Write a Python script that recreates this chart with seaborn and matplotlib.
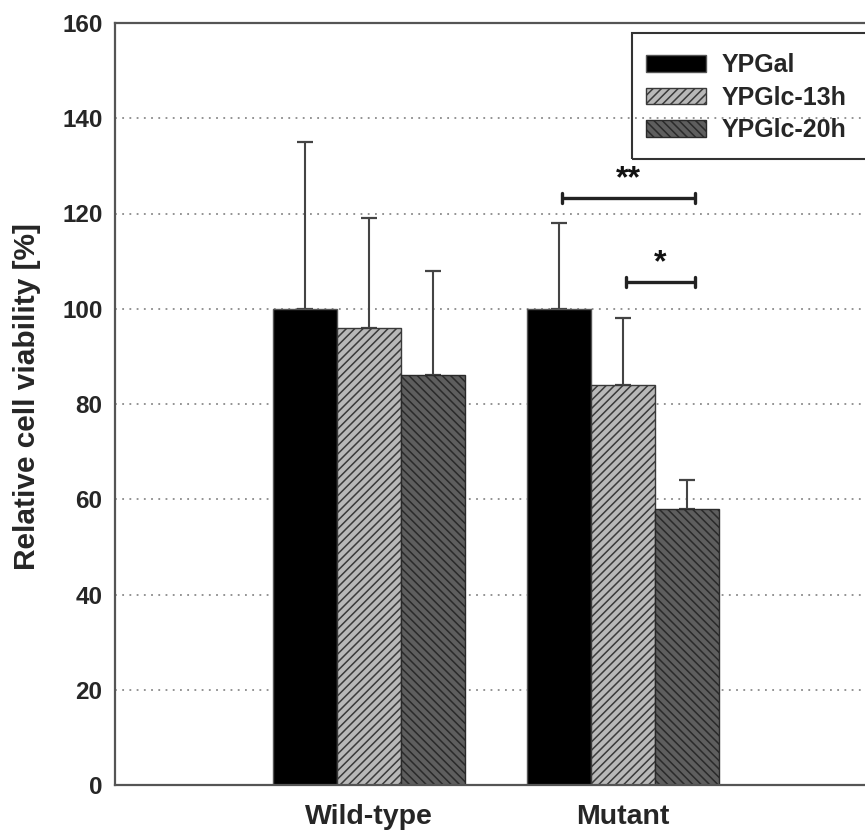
import matplotlib
matplotlib.use("Agg")
import matplotlib.pyplot as plt
from matplotlib.patches import Rectangle
import seaborn as sns
import pandas as pd
import numpy as np

# ---- data ----
groups = ["Wild-type", "Mutant"]
conditions = ["YPGal", "YPGlc-13h", "YPGlc-20h"]
wt_values = [100, 96, 86]
mut_values = [100, 84, 58]
wt_errors = [35, 23, 22]
mut_errors = [18, 14, 6]
y_ticks = [0, 20, 40, 60, 80, 100, 120, 140, 160]
# significance: (group, condition_a, condition_b, y level, label)
sig_brackets = [("Mutant", "YPGal", "YPGlc-20h", 123.3, "**"),
                ("Mutant", "YPGlc-13h", "YPGlc-20h", 105.6, "*")]

sns.set_style("white")
plt.rcParams["font.family"] = ["Liberation Sans", "DejaVu Sans"]
plt.rcParams["font.weight"] = "bold"
plt.rcParams["hatch.linewidth"] = 1.1

df = pd.DataFrame({
    "group": [g for g in groups for _ in conditions],
    "condition": conditions * len(groups),
    "value": wt_values + mut_values,
    "err": wt_errors + mut_errors,
})

W, H = 865, 833
fig = plt.figure(figsize=(W / 100, H / 100), dpi=100)
ax = fig.add_axes([115 / W, 48 / H, (877 - 115) / W, (785 - 23) / H])

colors = ["#000000", "#b8b8b8", "#5e5e5e"]
sns.barplot(data=df, x="group", y="value", hue="condition", order=groups,
            hue_order=conditions, palette=colors, width=0.756, gap=0,
            errorbar=None, saturation=1, ax=ax, zorder=2)

bar_containers = list(ax.containers)
hatches = [None, "////", "\\\\\\\\"]
edgecols = ["#555555", "#3a3a3a", "#2a2a2a"]
centers = {}
for cont, cond, h, ec in zip(bar_containers, conditions, hatches, edgecols):
    for bar, g in zip(cont.patches, groups):
        bar.set_edgecolor(ec)
        bar.set_linewidth(1.0)
        if h:
            bar.set_hatch(h)
        centers[(g, cond)] = bar.get_x() + bar.get_width() / 2

# one-sided error bars
for cond in conditions:
    xs = [centers[(g, cond)] for g in groups]
    sub = df[df.condition == cond].set_index("group").loc[groups]
    ys = sub["value"].values
    es = sub["err"].values
    ax.errorbar(xs, ys, yerr=[np.zeros_like(es), es], fmt="none",
                ecolor="#444444", elinewidth=1.5, capsize=5.6, capthick=1.6,
                zorder=1.9)

# significance brackets
for g, a, b, y, lab in sig_brackets:
    x1 = centers[(g, a)] + 0.01
    x2 = centers[(g, b)] + 0.03
    ax.plot([x1, x2], [y, y], color="#222222", lw=2.4, zorder=4,
            solid_capstyle="butt")
    for xx in (x1, x2):
        ax.plot([xx, xx], [y - 1.0, y + 1.0], color="#222222", lw=2.4, zorder=4)
    ax.text((x1 + x2) / 2, y + 0.7, lab, ha="center", va="bottom",
            fontsize=23, fontweight="bold", color="#111111")

ax.set_xlim(-1, 2)
ax.set_ylim(0, 160)
ax.set_yticks(y_ticks)
ax.set_yticklabels([str(t) for t in y_ticks])
ax.yaxis.grid(True, linestyle=(0, (1, 3)), color="#8a8a8a", lw=1.3)
ax.xaxis.grid(False)
ax.set_axisbelow(True)

for side in ["left", "bottom", "top", "right"]:
    ax.spines[side].set_visible(True)
    ax.spines[side].set_color("#555555")
    ax.spines[side].set_linewidth(1.6)

ax.tick_params(axis="y", length=0, pad=9, labelsize=17.5)
ax.tick_params(axis="x", length=0, pad=14, labelsize=20.5)
for lbl in ax.get_xticklabels() + ax.get_yticklabels():
    lbl.set_fontweight("bold")
ax.set_xlabel("")
ax.set_ylabel("Relative cell viability [%]", fontsize=21.5, fontweight="bold")
ax.yaxis.set_label_coords(-0.097, 0.51)

old = ax.get_legend()
if old is not None:
    old.remove()
handles = [cont.patches[0] for cont in bar_containers]
leg = ax.legend(handles, conditions, loc="upper left",
                bbox_to_anchor=(630 / W, (H - 37) / H),
                bbox_transform=fig.transFigure,
                frameon=False,
                prop={"weight": "bold", "size": 18},
                handlelength=2.4, handleheight=0.66, labelspacing=0.34,
                handletextpad=0.6, borderpad=0.65, borderaxespad=0.0)
# legend frame running past the right edge of the picture, as in the source
fig.add_artist(Rectangle((632 / W, (H - 159) / H), (900 - 632) / W, 126 / H,
                         transform=fig.transFigure, fill=False,
                         edgecolor="#333333", linewidth=1.5, zorder=5))

fig.savefig("out.png", dpi=100)
